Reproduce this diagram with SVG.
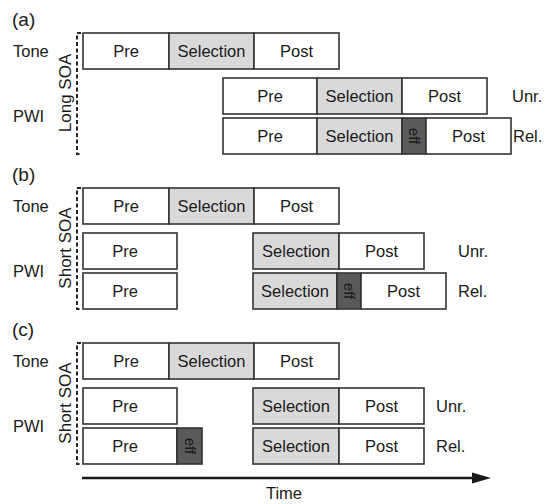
<svg xmlns="http://www.w3.org/2000/svg" width="551" height="504" viewBox="0 0 551 504">
<style>
text{font-family:"Liberation Sans",Arial,sans-serif;font-size:16.5px;fill:#1a1a1a}
.w{fill:#fff;stroke:#333;stroke-width:1.6}
.s{fill:#d9d9d9;stroke:#333;stroke-width:1.6}
.e{fill:#5a5a5a;stroke:#333;stroke-width:1.6}
.c{text-anchor:middle}
.p{font-size:19px}
.r{font-size:17px;text-anchor:middle}
.ef{font-size:15px;text-anchor:middle}
.br{fill:none;stroke:#222;stroke-width:2;stroke-dasharray:4 2.5}
</style>
<rect width="551" height="504" fill="#fff"/>
<!-- Panel a -->
<g id="panel-a">
<text class="p" x="12" y="26">(a)</text>
<text x="13" y="57">Tone</text>
<text x="13" y="122">PWI</text>
<path class="br" d="M81,33 H77 V154 H81"/>
<text class="r" transform="translate(71,93) rotate(-90)">Long SOA</text>
<g id="a-tone">
<rect class="w" x="83" y="33" width="86" height="36"/>
<rect class="s" x="169" y="33" width="85" height="36"/>
<rect class="w" x="254" y="33" width="85" height="36"/>
<text class="c" x="126" y="57">Pre</text>
<text class="c" x="211.5" y="57">Selection</text>
<text class="c" x="296.5" y="57">Post</text>
</g>
<g id="a-unr">
<rect class="w" x="223" y="78" width="94" height="36"/>
<rect class="s" x="317" y="78" width="85" height="36"/>
<rect class="w" x="402" y="78" width="85" height="36"/>
<text class="c" x="270" y="102">Pre</text>
<text class="c" x="359.5" y="102">Selection</text>
<text class="c" x="444.5" y="102">Post</text>
<text x="512" y="102">Unr.</text>
</g>
<g id="a-rel">
<rect class="w" x="223" y="118" width="94" height="36"/>
<rect class="s" x="317" y="118" width="85" height="36"/>
<rect class="e" x="402" y="118" width="24" height="36"/>
<rect class="w" x="426" y="118" width="85" height="36"/>
<text class="c" x="270" y="142">Pre</text>
<text class="c" x="359.5" y="142">Selection</text>
<text class="ef" transform="translate(409,136) rotate(90)">eff</text>
<text class="c" x="468.5" y="142">Post</text>
<text x="513" y="142">Rel.</text>
</g>
</g>
<!-- Panel b -->
<g id="panel-b">
<text class="p" x="12" y="181">(b)</text>
<text x="13" y="212">Tone</text>
<text x="13" y="277">PWI</text>
<path class="br" d="M81,188 H77 V309 H81"/>
<text class="r" transform="translate(71,248) rotate(-90)">Short SOA</text>
<g id="b-tone">
<rect class="w" x="83" y="188" width="86" height="36"/>
<rect class="s" x="169" y="188" width="85" height="36"/>
<rect class="w" x="254" y="188" width="85" height="36"/>
<text class="c" x="126" y="212">Pre</text>
<text class="c" x="211.5" y="212">Selection</text>
<text class="c" x="296.5" y="212">Post</text>
</g>
<g id="b-unr">
<rect class="w" x="83" y="233" width="94" height="36"/>
<rect class="s" x="253" y="233" width="86" height="36"/>
<rect class="w" x="339" y="233" width="85" height="36"/>
<text class="c" x="125" y="257">Pre</text>
<text class="c" x="296" y="257">Selection</text>
<text class="c" x="381.5" y="257">Post</text>
<text x="458" y="257">Unr.</text>
</g>
<g id="b-rel">
<rect class="w" x="83" y="273" width="94" height="36"/>
<rect class="s" x="253" y="273" width="84" height="36"/>
<rect class="e" x="337" y="273" width="24" height="36"/>
<rect class="w" x="361" y="273" width="85" height="36"/>
<text class="c" x="125" y="297">Pre</text>
<text class="c" x="295" y="297">Selection</text>
<text class="ef" transform="translate(344,291) rotate(90)">eff</text>
<text class="c" x="403.5" y="297">Post</text>
<text x="458" y="297">Rel.</text>
</g>
</g>
<!-- Panel c -->
<g id="panel-c">
<text class="p" x="12" y="336">(c)</text>
<text x="13" y="367">Tone</text>
<text x="13" y="432">PWI</text>
<path class="br" d="M81,343 H77 V464 H81"/>
<text class="r" transform="translate(71,403) rotate(-90)">Short SOA</text>
<g id="c-tone">
<rect class="w" x="83" y="343" width="86" height="36"/>
<rect class="s" x="169" y="343" width="85" height="36"/>
<rect class="w" x="254" y="343" width="85" height="36"/>
<text class="c" x="126" y="367">Pre</text>
<text class="c" x="211.5" y="367">Selection</text>
<text class="c" x="296.5" y="367">Post</text>
</g>
<g id="c-unr">
<rect class="w" x="83" y="388" width="94" height="36"/>
<rect class="s" x="253" y="388" width="86" height="36"/>
<rect class="w" x="339" y="388" width="85" height="36"/>
<text class="c" x="125" y="412">Pre</text>
<text class="c" x="296" y="412">Selection</text>
<text class="c" x="381.5" y="412">Post</text>
<text x="436" y="412">Unr.</text>
</g>
<g id="c-rel">
<rect class="w" x="83" y="428" width="94" height="36"/>
<rect class="e" x="177" y="428" width="25" height="36"/>
<rect class="s" x="253" y="428" width="86" height="36"/>
<rect class="w" x="339" y="428" width="85" height="36"/>
<text class="c" x="125" y="452">Pre</text>
<text class="ef" transform="translate(184.5,446) rotate(90)">eff</text>
<text class="c" x="296" y="452">Selection</text>
<text class="c" x="381.5" y="452">Post</text>
<text x="436" y="452">Rel.</text>
</g>
</g>
<g id="connectors">
<line x1="82" y1="478" x2="474" y2="478" stroke="#1a1a1a" stroke-width="2.5"/>
<polygon points="472,472.5 491,478 472,483.5" fill="#1a1a1a"/>
</g>
<text class="c" x="284" y="499">Time</text>
</svg>
